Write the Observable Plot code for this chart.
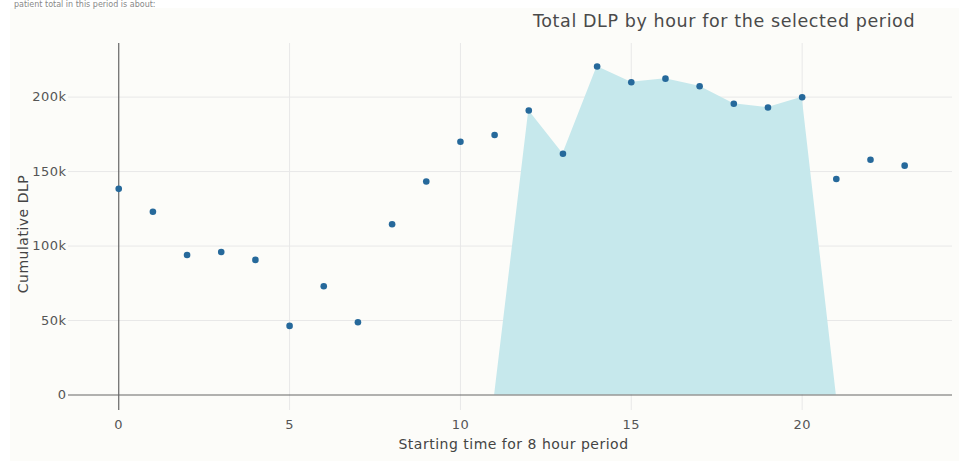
<!DOCTYPE html>
<html>
<head>
<meta charset="utf-8">
<script src="https://cdn.jsdelivr.net/npm/d3@7"></script>
<script src="https://cdn.jsdelivr.net/npm/@observablehq/plot@0.6"></script>
<style>
  html, body { margin: 0; padding: 0; background: #ffffff; width: 959px; height: 461px; overflow: hidden; }
  #panel { position: absolute; left: 10px; top: 8px; width: 949px; height: 453px; background: #fcfcf9; }
  #chart { position: absolute; left: 0; top: 0; }
  #title { position: absolute; left: 533px; top: 11px; font-family: "DejaVu Sans", sans-serif; font-size: 17.5px; letter-spacing: 0.6px; color: #4a4a4a; white-space: nowrap; }
  #cut { position: absolute; left: 14px; top: 0px; font-family: "DejaVu Sans", sans-serif; font-size: 8px; line-height: 9px; color: #888; white-space: nowrap; }
  svg text { letter-spacing: 0.5px; }
</style>
</head>
<body>
<div id="panel"></div>
<div id="cut">patient total in this period is about:</div>
<div id="chart"></div>
<div id="title">Total DLP by hour for the selected period</div>
<script>
// Hour of day at which the 8 hour period starts
const hours = [0,1,2,3,4,5,6,7,8,9,10,11,12,13,14,15,16,17,18,19,20,21,22,23];
// Cumulative DLP for each starting hour
const dlp = [138400,123000,94000,96000,90700,46400,73000,48900,114600,143300,170000,174600,
             191000,162000,220600,210000,212400,207300,195500,193000,199900,145000,158000,154000];
// Highlighted (selected) period drawn as a filled area
const areaHours = [11,12,13,14,15,16,17,18,19,20,21];
const areaValues = [0,191000,162000,220600,210000,212400,207300,195500,193000,199900,0];
// Tick values
const xTicks = [0,5,10,15,20];
const yTicks = [0,50000,100000,150000,200000];

const points = hours.map((h, i) => ({hour: h, dlp: dlp[i]}));
const area = areaHours.map((h, i) => ({hour: h, dlp: areaValues[i]}));

const chart = Plot.plot({
  width: 959,
  height: 461,
  marginLeft: 68,
  marginRight: 7,
  marginTop: 43,
  marginBottom: 51,
  style: {background: "transparent", fontFamily: "DejaVu Sans, sans-serif", fontSize: "13px", color: "#555"},
  x: {domain: [-1.47, 24.4], label: null},
  y: {domain: [-10400, 236000], label: null},
  marks: [
    Plot.gridX(xTicks.filter(d => d !== 0), {stroke: "#e8e8e8", strokeOpacity: 1}),
    Plot.gridY(yTicks.filter(d => d !== 0), {stroke: "#e8e8e8", strokeOpacity: 1}),
    Plot.areaY(area, {x: "hour", y: "dlp", fill: "#c6e8ec", curve: "linear"}),
    Plot.ruleX([0], {stroke: "#666", strokeWidth: 1.2}),
    Plot.ruleY([0], {stroke: "#666", strokeWidth: 1.2}),
    Plot.dot(points, {x: "hour", y: "dlp", r: 3.3, fill: "#26699b", stroke: "none"}),
    Plot.axisX(xTicks, {tickSize: 0, tickPadding: 9, fill: "#555", fontSize: 13}),
    Plot.axisY(yTicks, {tickSize: 0, tickPadding: 2, fill: "#555", fontSize: 13,
      tickFormat: d => d === 0 ? "0" : (d / 1000) + "k"}),
    Plot.text(["Starting time for 8 hour period"], {frameAnchor: "bottom", dy: 38, dx: 3, fontSize: 14, fill: "#444"}),
    Plot.text(["Cumulative DLP"], {frameAnchor: "left", textAnchor: "middle", dx: -45, dy: 7, rotate: -90, fontSize: 14, fill: "#444"})
  ]
});
document.getElementById("chart").appendChild(chart);
</script>
</body>
</html>
